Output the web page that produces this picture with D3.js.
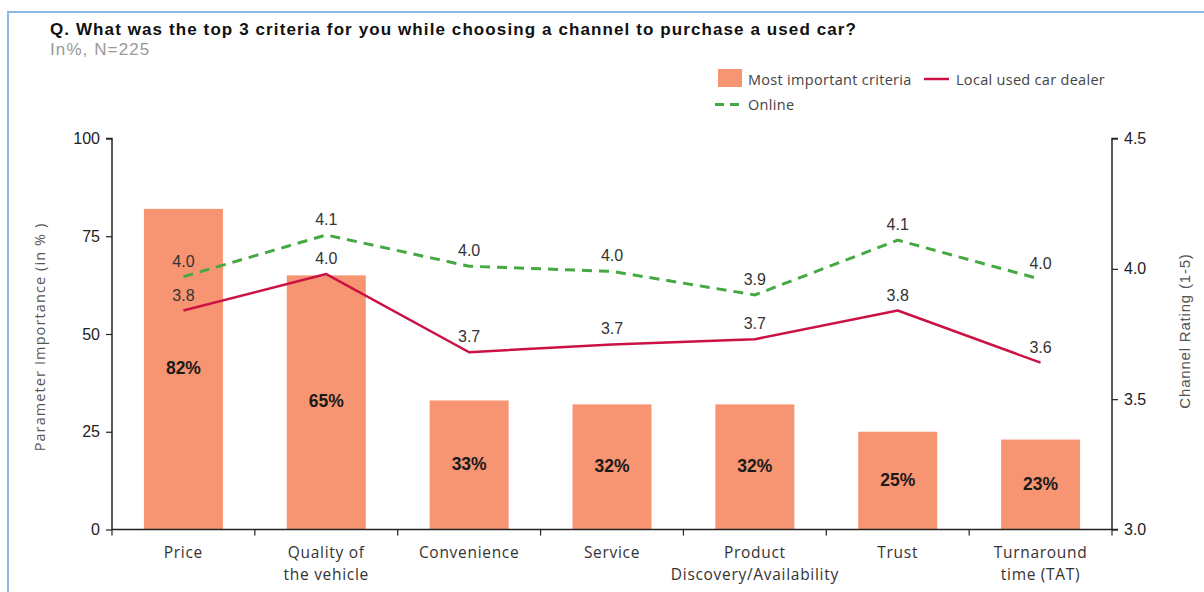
<!DOCTYPE html>
<html><head><meta charset="utf-8">
<script src="https://cdn.jsdelivr.net/npm/d3@7/dist/d3.min.js"></script>
<style>body{margin:0;background:#fff;}svg{display:block;}</style>
</head><body>
<svg id="c" width="1204" height="592"></svg>
<script>
const categories = [["Price"],["Quality of","the vehicle"],["Convenience"],["Service"],["Product","Discovery/Availability"],["Trust"],["Turnaround","time (TAT)"]];
const importance = [82, 65, 33, 32, 32, 25, 23];
const localDealer = [3.84, 3.98, 3.68, 3.71, 3.73, 3.84, 3.64];
const online = [3.97, 4.13, 4.01, 3.99, 3.90, 4.11, 3.96];
const leftTicks = [0, 25, 50, 75, 100];
const rightTicks = [3.0, 3.5, 4.0, 4.5];

const svg = d3.select("#c");
const L = 112, R = 1112, T = 138.5, B = 529.5;
const idx = d3.range(categories.length);
const x = d3.scaleBand().domain(idx).range([L, R]).paddingInner(0.447).paddingOuter(0.2235);
const xb = d3.scaleBand().domain(idx).range([L, R]);
const yL = d3.scaleLinear().domain([0, 100]).range([B, T]);
const yR = d3.scaleLinear().domain([3.0, 4.5]).range([B, T]);
const fontAx = "Liberation Sans, Arial";
const fontSoft = "Open Sans, Noto Sans";

// frame
svg.append("rect").attr("x", 8).attr("y", 12).attr("width", 1220).attr("height", 620)
  .attr("fill", "none").attr("stroke", "#7fb0e0").attr("stroke-width", 1.8);

svg.append("text").attr("x", 50).attr("y", 35).attr("font-family", fontAx).attr("font-weight", "bold")
  .attr("font-size", 17).attr("letter-spacing", 1.1).attr("fill", "#111")
  .text("Q. What was the top 3 criteria for you while choosing a channel to purchase a used car?");
svg.append("text").attr("x", 50).attr("y", 55).attr("font-family", fontAx)
  .attr("font-size", 17).attr("letter-spacing", 1.1).attr("fill", "#999").text("In%, N=225");

// bars
svg.append("g").selectAll("rect").data(importance).join("rect")
  .attr("x", (d, i) => x(i)).attr("width", x.bandwidth())
  .attr("y", d => yL(d)).attr("height", d => B - yL(d)).attr("fill", "#f79472");

svg.append("g").selectAll("text").data(importance).join("text")
  .attr("x", (d, i) => x(i) + x.bandwidth() / 2).attr("y", d => (yL(d) + B) / 2 + 5)
  .attr("text-anchor", "middle").attr("font-family", fontAx).attr("font-weight", "bold")
  .attr("font-size", 17.5).attr("fill", "#1a1a1a").text(d => d + "%");

// axes
const gl = svg.append("g").attr("transform", `translate(${L},0)`)
  .call(d3.axisLeft(yL).tickValues(leftTicks).tickSize(6).tickPadding(6));
gl.select(".domain").attr("stroke", "#222").attr("stroke-width", 1.5).attr("d", `M-6,${T}H0V${B}`);
gl.selectAll("text").attr("font-family", fontAx).attr("font-size", 16).attr("fill", "#222");
gl.selectAll("line").attr("stroke", "#222").attr("stroke-width", 1.2);

const gr = svg.append("g").attr("transform", `translate(${R},0)`)
  .call(d3.axisRight(yR).tickValues(rightTicks).tickSize(6).tickPadding(6).tickFormat(d3.format(".1f")));
gr.select(".domain").attr("stroke", "#222").attr("stroke-width", 1.5).attr("d", `M6,${T}H0V${B}`);
gr.selectAll("text").attr("font-family", fontAx).attr("font-size", 16).attr("fill", "#222");
gr.selectAll("line").attr("stroke", "#222").attr("stroke-width", 1.2);

const gb = svg.append("g").attr("transform", `translate(0,${B})`);
gb.append("line").attr("x1", L).attr("x2", R + 6).attr("stroke", "#222").attr("stroke-width", 1.5);
gb.selectAll("line.t").data(d3.range(categories.length + 1)).join("line").attr("class", "t")
  .attr("x1", i => i < categories.length ? xb(i) : R).attr("x2", i => i < categories.length ? xb(i) : R)
  .attr("y1", 0).attr("y2", 6).attr("stroke", "#222").attr("stroke-width", 1.2);
const catText = gb.selectAll("text").data(categories).join("text")
  .attr("x", (d, i) => xb(i) + xb.bandwidth() / 2).attr("y", 28.5)
  .attr("text-anchor", "middle").attr("font-family", fontSoft).attr("font-size", 15.5)
  .attr("letter-spacing", 0.7).attr("fill", "#333");
catText.each(function(d) {
  const t = d3.select(this);
  d.forEach((s, k) => t.append("tspan").attr("x", t.attr("x")).attr("dy", k === 0 ? 0 : 22).text(s));
});

// axis titles
svg.append("text").attr("transform", `translate(45,${(T + B) / 2 + 3}) rotate(-90)`).attr("text-anchor", "middle")
  .attr("font-family", fontSoft).attr("font-size", 14.5).attr("letter-spacing", 1.1).attr("fill", "#555")
  .text("Parameter Importance  (in % )");
svg.append("text").attr("transform", `translate(1190,${(T + B) / 2 - 3}) rotate(-90)`).attr("text-anchor", "middle")
  .attr("font-family", fontAx).attr("font-size", 15).attr("letter-spacing", 0.8).attr("fill", "#555")
  .text("Channel Rating (1-5)");

// lines
const lineGen = d3.line().x((d, i) => xb(i) + xb.bandwidth() / 2).y(d => yR(d));
svg.append("path").datum(online).attr("d", lineGen).attr("fill", "none")
  .attr("stroke", "#46a843").attr("stroke-width", 3).attr("stroke-dasharray", "10,7");
svg.append("path").datum(localDealer).attr("d", lineGen).attr("fill", "none")
  .attr("stroke", "#cc1245").attr("stroke-width", 2.5).attr("stroke-linejoin", "round");

[online, localDealer].forEach(series => {
  svg.append("g").selectAll("text").data(series).join("text")
    .attr("x", (d, i) => xb(i) + xb.bandwidth() / 2).attr("y", d => yR(d) - 10)
    .attr("text-anchor", "middle").attr("font-family", fontAx).attr("font-size", 16).attr("fill", "#333")
    .text(d => d.toFixed(1));
});

// legend
const lg = svg.append("g").attr("font-family", fontSoft).attr("font-size", 14.5)
  .attr("letter-spacing", 0.3).attr("fill", "#444");
lg.append("rect").attr("x", 718).attr("y", 69).attr("width", 24).attr("height", 18).attr("fill", "#f79472");
lg.append("text").attr("x", 748).attr("y", 85).text("Most important criteria");
lg.append("line").attr("x1", 924).attr("x2", 949).attr("y1", 79).attr("y2", 79).attr("stroke", "#cc1245").attr("stroke-width", 2.5);
lg.append("text").attr("x", 956).attr("y", 85).text("Local used car dealer");
lg.append("line").attr("x1", 715).attr("x2", 742).attr("y1", 104.5).attr("y2", 104.5).attr("stroke", "#46a843").attr("stroke-width", 3).attr("stroke-dasharray", "9,6");
lg.append("text").attr("x", 748).attr("y", 110).text("Online");
</script>
</body></html>
